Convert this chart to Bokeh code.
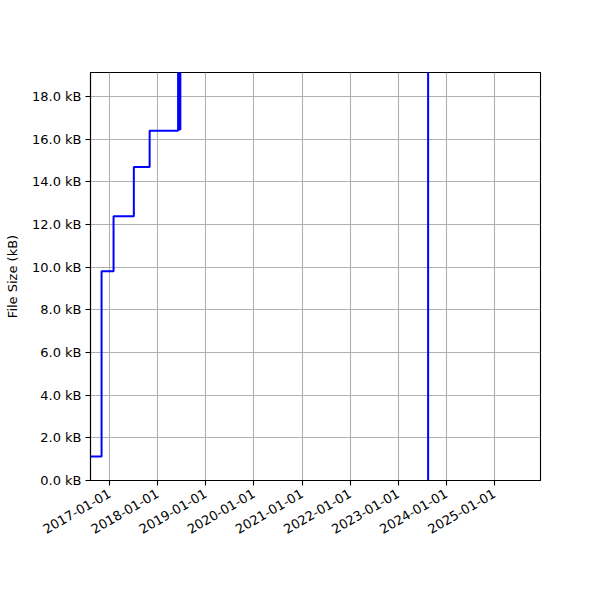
import math
from datetime import datetime
from bokeh.plotting import figure
from bokeh.models import (Range1d, FixedTicker, DatetimeTickFormatter,
                          PrintfTickFormatter, ColumnDataSource)
from bokeh.embed import file_html
from bokeh.resources import INLINE

# Data (file size history, kB)
dates = ["2016-08-01", "2016-11-01", "2017-01-31", "2017-07-04",
         "2017-11-01", "2018-06-05", "2018-06-14", "2018-06-22", "2023-08-16"]
sizes_kb = [1.12, 9.81, 12.39, 14.69, 16.40, 24.0, 16.45, 24.0, 0.0]

year_ticks = ["2017-01-01", "2018-01-01", "2019-01-01", "2020-01-01", "2021-01-01",
              "2022-01-01", "2023-01-01", "2024-01-01", "2025-01-01"]
y_ticks = [0, 2, 4, 6, 8, 10, 12, 14, 16, 18]

x_start = "2016-08-09"
x_end = "2025-12-16"
y_max = 19.125


def ms(s):
    return datetime.strptime(s, "%Y-%m-%d").timestamp() * 1000.0


x = [datetime.strptime(d, "%Y-%m-%d") for d in dates]
src = ColumnDataSource(dict(x=x, y=sizes_kb))

p = figure(width=600, height=600, output_backend="svg", toolbar_location=None,
           x_axis_type="datetime",
           x_range=Range1d(ms(x_start), ms(x_end)),
           y_range=Range1d(0, y_max),
           min_border_left=90, min_border_right=60,
           min_border_top=72, min_border_bottom=120)

p.step("x", "y", source=src, mode="after", line_color="blue", line_width=2)

FONT = "DejaVu Sans"
FS = "13px"

p.xaxis.ticker = FixedTicker(ticks=[ms(t) for t in year_ticks])
fmt = "%Y-%m-%d"
p.xaxis.formatter = DatetimeTickFormatter(
    microseconds=fmt, milliseconds=fmt, seconds=fmt, minsec=fmt, minutes=fmt,
    hourmin=fmt, hours=fmt, days=fmt, months=fmt, years=fmt)
p.xaxis.major_label_orientation = math.pi / 6

p.yaxis.ticker = FixedTicker(ticks=y_ticks)
p.yaxis.formatter = PrintfTickFormatter(format="%.1f kB")
p.yaxis.axis_label = "File Size (kB)"
p.yaxis.axis_label_text_font = FONT
p.yaxis.axis_label_text_font_size = FS
p.yaxis.axis_label_text_font_style = "normal"
p.yaxis.axis_label_text_color = "black"
p.yaxis.axis_label_standoff = 9

for ax in (p.xaxis, p.yaxis):
    ax.major_label_text_font = FONT
    ax.major_label_text_font_size = FS
    ax.major_label_text_color = "black"
    ax.axis_line_color = "black"
    ax.axis_line_width = 1.1
    ax.major_tick_line_color = "black"
    ax.major_tick_line_width = 1.1
    ax.major_tick_out = 5
    ax.major_tick_in = 0
    ax.minor_tick_line_color = None
    ax.major_label_standoff = 4

p.xaxis.major_label_standoff = 7

p.grid.grid_line_color = "#b0b0b0"
p.grid.grid_line_width = 1.1
p.outline_line_color = "black"
p.outline_line_width = 1.1
p.outline_line_alpha = 1.0

open("out.html", "w").write(file_html(p, INLINE))
